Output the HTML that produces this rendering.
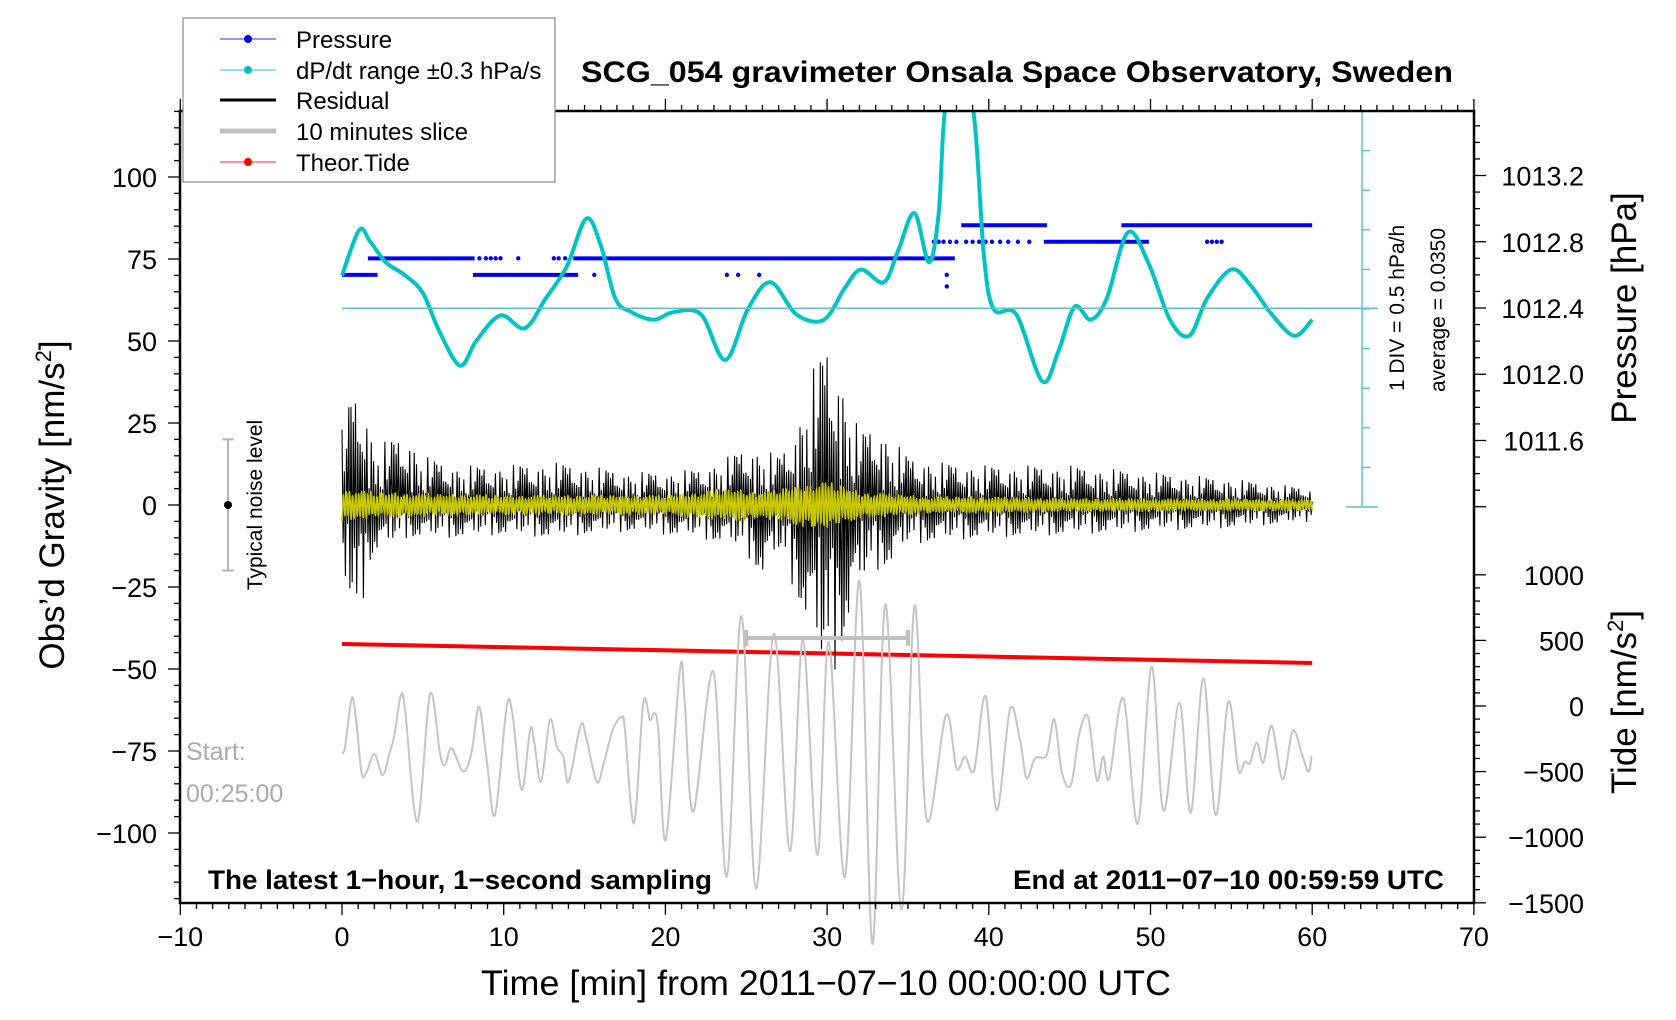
<!DOCTYPE html>
<html><head><meta charset="utf-8">
<style>
html,body{margin:0;padding:0;background:#fff;}
svg{display:block;font-family:"Liberation Sans",Arial,sans-serif;}
</style></head>
<body>
<svg id="chart" width="1676" height="1020" viewBox="0 0 1676 1020" xmlns="http://www.w3.org/2000/svg">
<defs><clipPath id="plotClip"><rect x="180" y="111" width="1294" height="792"/></clipPath></defs>
<g id="layer-back"></g>
<g id="layer-data"></g>
<g id="layer-axes"></g>
<text x="1017" y="82" text-anchor="middle" font-size="30" font-weight="bold" textLength="872" lengthAdjust="spacingAndGlyphs">SCG_054 gravimeter Onsala Space Observatory, Sweden</text>
<text x="826" y="995" text-anchor="middle" font-size="35" textLength="690" lengthAdjust="spacingAndGlyphs">Time [min] from 2011−07−10 00:00:00 UTC</text>
<text transform="translate(64,505) rotate(-90)" text-anchor="middle" font-size="35">Obs’d Gravity [nm/s<tspan font-size="22" dy="-13">2</tspan><tspan dy="13">]</tspan></text>
<text transform="translate(1636,308) rotate(-90)" text-anchor="middle" font-size="35">Pressure [hPa]</text>
<text transform="translate(1636,702) rotate(-90)" text-anchor="middle" font-size="35">Tide [nm/s<tspan font-size="22" dy="-13">2</tspan><tspan dy="13">]</tspan></text>
<text transform="translate(1404,308) rotate(-90)" text-anchor="middle" font-size="21">1 DIV = 0.5 hPa/h</text>
<text transform="translate(1445,310) rotate(-90)" text-anchor="middle" font-size="21">average = 0.0350</text>
<text transform="translate(262,505) rotate(-90)" text-anchor="middle" font-size="21">Typical noise level</text>
<text x="186" y="760" font-size="25" fill="#aaaaaa">Start:</text>
<text x="186" y="802" font-size="25" fill="#aaaaaa">00:25:00</text>
<text x="208" y="889" font-size="27" font-weight="bold" textLength="504" lengthAdjust="spacingAndGlyphs">The latest 1−hour, 1−second sampling</text>
<text x="1013" y="889" font-size="27" font-weight="bold" textLength="431" lengthAdjust="spacingAndGlyphs">End at 2011−07−10 00:59:59 UTC</text>
<g>
<rect x="183" y="18" width="372" height="164" fill="#fff" stroke="#888" stroke-width="1.2"/>
<g><line x1="220" y1="39" x2="276" y2="39" stroke="#5555ff" stroke-width="1.2"/><circle cx="248" cy="39" r="4" fill="#0000ff"/><text x="296" y="48" font-size="24">Pressure</text></g>
<g><line x1="220" y1="70" x2="276" y2="70" stroke="#55cccc" stroke-width="1.2"/><circle cx="248" cy="70" r="4" fill="#00c4c4"/><text x="296" y="79" font-size="24">dP/dt range ±0.3 hPa/s</text></g>
<g><line x1="220" y1="100" x2="276" y2="100" stroke="#000" stroke-width="3"/><text x="296" y="109" font-size="24">Residual</text></g>
<g><line x1="220" y1="131" x2="276" y2="131" stroke="#c0c0c0" stroke-width="5"/><text x="296" y="140" font-size="24">10 minutes slice</text></g>
<g><line x1="220" y1="162" x2="276" y2="162" stroke="#ff5555" stroke-width="1.2"/><circle cx="248" cy="162" r="4" fill="#ff0000"/><text x="296" y="171" font-size="24">Theor.Tide</text></g>
</g>
</svg>
<script>
// ---- data ----
const cyanT = [0,1.06,1.72,2.71,3.9,5.0,6.0,7.3,8.3,9.8,11.3,12.6,13.9,15.1,16.0,16.9,17.9,19.3,20.5,22.2,23.7,25.1,26.5,28.1,29.8,31.1,32.1,33.5,34.4,35.4,36.3,36.9,37.3,38.2,39.1,39.7,40.3,41.7,43.3,44.3,45.3,46.3,47.3,48.6,49.9,51.2,52.4,53.5,55.0,56.2,57.5,58.9,60.0];
const cyanV = [70,83.8,80.5,74,70,64.6,53.2,42.5,50,57.8,53.9,63,72.7,87.3,79.2,63,58.8,56.5,58.8,58.1,44.2,59.7,67.9,58.1,56.5,66.2,71.8,67.9,77.6,89,74,89,121,140,118,76,59.7,58.1,37.7,46.8,60.4,56.5,63,83.1,73.4,56.5,51.6,63,71.8,66.9,58.1,51.6,56.5];
const cyanAverage = 60;
const pStart = [0,8.1,1.6,14.3,43.4,38.3,48.2];
const pEnd   = [2.2,14.6,8.2,37.9,49.9,43.6,60];
const pLevel = [1012.6,1012.6,1012.7,1012.7,1012.8,1012.9,1012.9];
const dotT = [8.5,8.9,9.2,9.5,9.8,10.9,13.1,13.4,13.8,15.6,23.8,24.5,25.8,36.6,36.9,37.2,37.6,38.0,38.6,39.0,39.4,39.8,40.2,40.7,41.2,41.8,42.5,53.5,53.8,54.1,54.4,37.4,37.4];
const dotP = [1012.7,1012.7,1012.7,1012.7,1012.7,1012.7,1012.7,1012.7,1012.7,1012.6,1012.6,1012.6,1012.6,1012.8,1012.8,1012.8,1012.8,1012.8,1012.8,1012.8,1012.8,1012.8,1012.8,1012.8,1012.8,1012.8,1012.8,1012.8,1012.8,1012.8,1012.8,1012.6,1012.53];
const tideT = [0,60];
const tideV = [473,328];
const sliceT = [0,0.19,0.6,0.87,1.22,1.53,2.0,2.52,2.93,3.22,3.63,3.9,4.66,5.44,6.06,6.37,6.78,7.5,8.02,8.47,8.95,9.46,10.18,10.55,11.11,11.63,11.87,12.31,12.86,13.28,13.69,14.02,14.76,15.13,15.75,16.16,16.74,17.3,17.5,18.06,18.63,19.05,19.3,19.56,20.02,20.9,21.2,21.73,22.96,23.8,24.7,25.6,26.7,27.7,28.5,29.4,30.1,31.1,32.0,32.8,33.6,34.6,35.4,36.16,37.35,38.0,38.53,39.1,39.8,40.49,41.31,41.93,42.34,42.86,43.58,44.05,44.51,45.08,45.6,46.15,46.67,47.08,47.45,48.32,49.21,50.07,50.8,51.78,52.49,53.27,54.03,54.81,55.43,55.84,56.15,56.57,56.98,57.5,58.17,58.79,59.35,59.76,59.97];
const sliceV = [-361,-310,59,-107,-513,-500,-366,-526,-361,-234,76,-30,-882,91,-361,-450,-323,-500,-348,-5,-412,-831,-10,-69,-640,-183,-259,-577,-107,-310,-386,-577,-145,-259,-577,-450,-183,-82,-183,-894,21,-107,-56,-183,-1021,280,21,-806,262,-1301,686,-1395,549,-1105,503,-1136,488,-1303,953,-1814,777,-1555,762,-869,-69,-475,-386,-488,76,-793,-25,-259,-551,-399,-373,-99,-500,-602,-208,-86,-564,-386,-551,59,-899,300,-798,25,-813,211,-831,33,-488,-424,-437,-280,-432,-152,-559,-188,-361,-500,-381];
const sliceWindow = [25,35];
const resT  = [0,0.5,1,1.5,2,3,4,5,7,10,13,15,18,20,22,24,25,26,27,28,29,30,31,32,33,34,35,37,40,45,50,55,60];
const resHi = [23,33,35,30,18,20,22,15,12,12,13,12,10,10,11,15,18,17,15,22,40,50,38,22,25,20,15,13,12,12,10,8,5];
const resLo = [-25,-30,-44,-20,-15,-12,-10,-10,-10,-9,-10,-9,-8,-9,-10,-12,-15,-22,-15,-26,-40,-58,-42,-25,-20,-18,-12,-11,-10,-9,-8,-7,-5];
const yelT  = [0,2,5,10,15,20,22,24,26,28,29,30,31,32,34,36,40,45,50,55,60];
const yelA  = [5,4,3.5,3,3,3,4,5,4,6,7,7,6,4,3.5,2.5,2.5,2,2,1.8,1.8];
const noiseLevel = 20;
const xTicks = [-10,0,10,20,30,40,50,60,70];
const yTicks = [-100,-75,-50,-25,0,25,50,75,100];
const pTicks = [1011.6,1012.0,1012.4,1012.8,1013.2];
const tTicks = [-1500,-1000,-500,0,500,1000];

// ---- scales ----
const X = t => 342 + 16.17*t;
const Y = v => 505 - 3.28*v;
const P = p => 308 - (p-1012.4)*165.6;
const T = v => 706 - v*0.1312;
const NS = 'http://www.w3.org/2000/svg';
function mk(tag, attrs, parent){ const e=document.createElementNS(NS,tag); for(const k in attrs) e.setAttribute(k,attrs[k]); parent.appendChild(e); return e; }
function smooth(pts){
  let d='M'+pts[0][0].toFixed(1)+','+pts[0][1].toFixed(1);
  for(let i=0;i<pts.length-1;i++){
    const p0=pts[Math.max(0,i-1)],p1=pts[i],p2=pts[i+1],p3=pts[Math.min(pts.length-1,i+2)];
    const c1=[p1[0]+(p2[0]-p0[0])/6,p1[1]+(p2[1]-p0[1])/6];
    const c2=[p2[0]-(p3[0]-p1[0])/6,p2[1]-(p3[1]-p1[1])/6];
    d+='C'+c1[0].toFixed(1)+','+c1[1].toFixed(1)+' '+c2[0].toFixed(1)+','+c2[1].toFixed(1)+' '+p2[0].toFixed(1)+','+p2[1].toFixed(1);
  }
  return d;
}
function interp(ts, vs, t){
  if(t<=ts[0]) return vs[0];
  for(let i=1;i<ts.length;i++){ if(t<=ts[i]){ const f=(t-ts[i-1])/(ts[i]-ts[i-1]); return vs[i-1]+f*(vs[i]-vs[i-1]); } }
  return vs[vs.length-1];
}
const data=document.getElementById('layer-data');
const axes=document.getElementById('layer-axes');
const clipG=mk('g',{'clip-path':'url(#plotClip)'},data);

const sl=mk('path',{d:smooth(sliceT.map((t,i)=>[X(t),T(sliceV[i])])),fill:'none',stroke:'#c4c4c4','stroke-width':2},data);



const sw=mk('g',{},data);


mk('line',{x1:X(sliceWindow[0]),x2:X(sliceWindow[1]),y1:638,y2:638,stroke:'#c0c0c0','stroke-width':4},sw);
mk('line',{x1:X(sliceWindow[0]),x2:X(sliceWindow[0]),y1:630,y2:646,stroke:'#c0c0c0','stroke-width':4},sw);
mk('line',{x1:X(sliceWindow[1]),x2:X(sliceWindow[1]),y1:630,y2:646,stroke:'#c0c0c0','stroke-width':4},sw);

const avg=mk('line',{x1:X(0),x2:1378,y1:Y(cyanAverage),y2:Y(cyanAverage),stroke:'#5cc4c4','stroke-width':1.5},data);


const bar=mk('g',{stroke:'#5cc4c4','stroke-width':1.5},data);


mk('line',{x1:1362,x2:1362,y1:111,y2:507},bar);
mk('line',{x1:1346,x2:1378,y1:507,y2:507},bar);
mk('line',{x1:1346,x2:1378,y1:111,y2:111},bar);
for(let i=1;i<10;i++){ mk('line',{x1:1362,x2:1370,y1:111+i*39.6,y2:111+i*39.6},bar); }

const td=mk('path',{d:'M'+tideT.map((t,i)=>X(t)+','+T(tideV[i])).join('L'),fill:'none',stroke:'#ff0000','stroke-width':4},clipG);



const jit=[1,0.35,0.8,0.55,0.95,0.25,0.7,0.45,0.9,0.6,0.3,0.85,0.5,0.75,0.4,0.65,0.2,0.55,0.9];
let rd='';
const NR=860;
for(let i=0;i<=NR;i++){
  const t=i*60/NR; const j=jit[(i*7)%jit.length];
  const v=(i%2===0)? interp(resT,resHi,t)*j : interp(resT,resLo,t)*j;
  rd+=(i?'L':'M')+X(t).toFixed(1)+','+Y(v).toFixed(1);
}
const rs=mk('path',{d:rd,fill:'none',stroke:'#000','stroke-width':1.1},clipG);



let yp=[];
const NY=640;
for(let i=0;i<=NY;i++){
  const t=i*60/NY; const j=jit[(i*5)%jit.length];
  const a=interp(yelT,yelA,t)*(0.5+0.5*j);
  yp.push([X(t),Y(i%2?a:-a)]);
}
const yl=mk('path',{d:smooth(yp),fill:'none',stroke:'#c8c800','stroke-width':1.6},clipG);



const pg=mk('g',{},clipG);


for(let i=0;i<pStart.length;i++){
  const s=mk('line',{x1:X(pStart[i]),x2:X(pEnd[i]),y1:P(pLevel[i]),y2:P(pLevel[i]),stroke:'#0000ff','stroke-width':4},pg);
  
  
}
for(let i=0;i<dotT.length;i++){
  const c=mk('circle',{cx:X(dotT[i]),cy:P(dotP[i]),r:2.2,fill:'#0000ff'},pg);
  
  
}

const cy=mk('path',{d:smooth(cyanT.map((t,i)=>[X(t),Y(cyanV[i])])),fill:'none',stroke:'#00c4c4','stroke-width':4},clipG);



const nb=mk('g',{},data);


mk('line',{x1:228,x2:228,y1:Y(noiseLevel),y2:Y(-noiseLevel),stroke:'#b4b4b4','stroke-width':2},nb);
mk('line',{x1:222,x2:234,y1:Y(noiseLevel),y2:Y(noiseLevel),stroke:'#b4b4b4','stroke-width':2},nb);
mk('line',{x1:222,x2:234,y1:Y(-noiseLevel),y2:Y(-noiseLevel),stroke:'#b4b4b4','stroke-width':2},nb);
mk('circle',{cx:228,cy:Y(0),r:4,fill:'#000'},nb);

const fr=mk('rect',{x:180,y:111,width:1294,height:792,fill:'none',stroke:'#000','stroke-width':2.5},axes);


for(let m=-10;m<=70;m++){
  const maj=m%10===0;
  mk('line',{x1:X(m),x2:X(m),y1:903,y2:903+(maj?12:6),stroke:'#000','stroke-width':1.3},axes);
  mk('line',{x1:X(m),x2:X(m),y1:111,y2:111-(maj?12:6),stroke:'#000','stroke-width':1.3},axes);
}
xTicks.forEach(v=>{
  const t=mk('text',{x:X(v),y:946,'text-anchor':'middle','font-size':27},axes);
  t.textContent=String(v).replace('-','−');
  
  
});
for(let v=-120;v<=120;v+=5){
  const maj=v%25===0;
  mk('line',{x1:180,x2:180-(maj?12:6),y1:Y(v),y2:Y(v),stroke:'#000','stroke-width':1.3},axes);
}
yTicks.forEach(v=>{
  const t=mk('text',{x:157,y:Y(v)+10,'text-anchor':'end','font-size':27},axes);
  t.textContent=String(v).replace('-','−');
  
  
});
for(let k=0;k<=24;k++){
  const p=1013.6-k*0.1; const y=P(p);
  if(y<111||y>525) continue;
  const maj=Math.abs(Math.round(p*10)%4)===0;
  mk('line',{x1:1474,x2:1474+(maj?12:6),y1:y,y2:y,stroke:'#000','stroke-width':1.3},axes);
}
pTicks.forEach(v=>{
  const t=mk('text',{x:1584,y:P(v)+10,'text-anchor':'end','font-size':27},axes);
  t.textContent=v.toFixed(1);
  
  
});
for(let v=-1500;v<=1000;v+=100){
  const maj=v%500===0;
  mk('line',{x1:1474,x2:1474+(maj?12:6),y1:T(v),y2:T(v),stroke:'#000','stroke-width':1.3},axes);
}
tTicks.forEach(v=>{
  const t=mk('text',{x:1584,y:T(v)+10,'text-anchor':'end','font-size':27},axes);
  t.textContent=String(v).replace('-','−');
  
  
});
</script>
</body></html>
